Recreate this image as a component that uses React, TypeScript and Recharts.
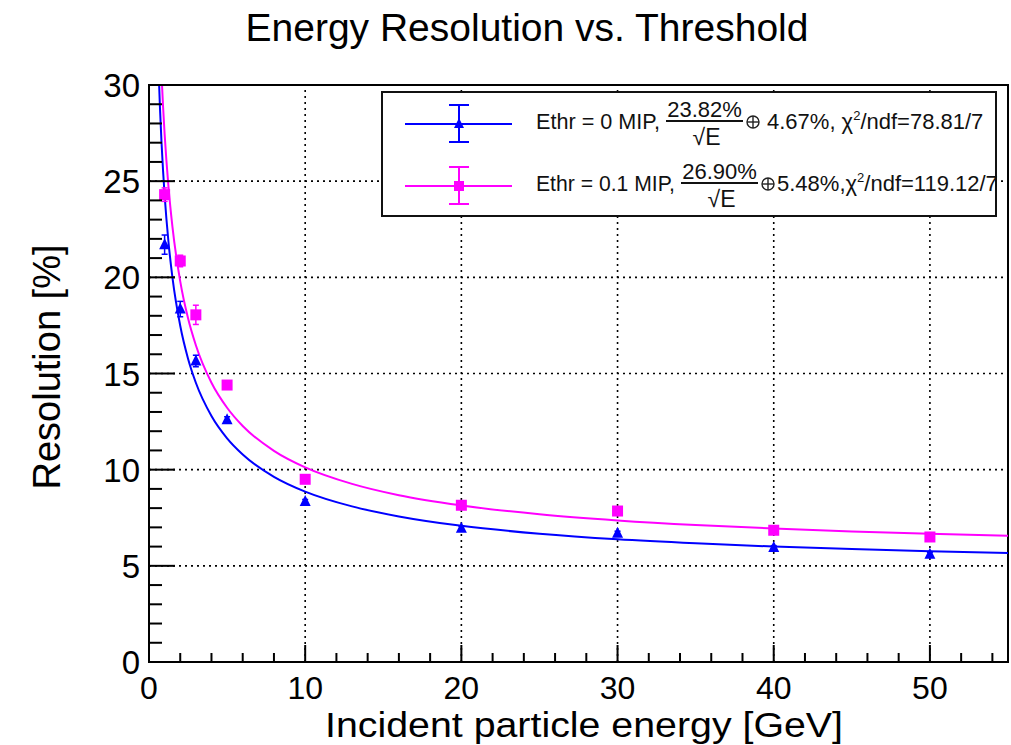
import {
  ComposedChart,
  Line,
  Scatter,
  XAxis,
  YAxis,
  ReferenceLine,
  ReferenceArea,
  ErrorBar,
} from 'recharts';

// measured points
const energies = [1, 2, 3, 5, 10, 20, 30, 40, 50];
const resEthr0 = [21.7, 18.35, 15.65, 12.6, 8.35, 6.95, 6.7, 5.95, 5.6];
const errEthr0 = [0.5, 0.4, 0.3, 0.15, 0.1, 0.1, 0.1, 0.1, 0.1];
const resEthr01 = [24.3, 20.85, 18.05, 14.4, 9.5, 8.15, 7.85, 6.85, 6.5];
const errEthr01 = [0.35, 0.3, 0.5, 0.2, 0.15, 0.1, 0.15, 0.1, 0.1];

// fit curves
const fitEnergies = [0.6, 0.7, 0.8, 0.9, 1, 1.25, 1.5, 2, 2.5, 3, 4, 5, 6, 8, 10, 13, 16, 20, 25, 30, 35, 40, 45, 50, 55];
const fitEthr0 = [31.1, 28.85, 27.04, 25.54, 24.27, 21.81, 20.0, 17.48, 15.77, 14.52, 12.79, 11.63, 10.79, 9.63, 8.86, 8.09, 7.57, 7.08, 6.67, 6.38, 6.17, 6.0, 5.87, 5.76, 5.67];
const fitEthr01 = [35.16, 32.61, 30.57, 28.88, 27.45, 24.68, 22.64, 19.79, 17.87, 16.47, 14.52, 13.22, 12.27, 10.98, 10.12, 9.26, 8.67, 8.14, 7.68, 7.36, 7.12, 6.94, 6.79, 6.67, 6.57];

const xTicks = [0, 2, 4, 6, 8, 10, 12, 14, 16, 18, 20, 22, 24, 26, 28, 30, 32, 34, 36, 38, 40, 42, 44, 46, 48, 50, 52, 54];
const yTicks = [0, 1, 2, 3, 4, 5, 6, 7, 8, 9, 10, 11, 12, 13, 14, 15, 16, 17, 18, 19, 20, 21, 22, 23, 24, 25, 26, 27, 28, 29, 30];
const xGrid = [10, 20, 30, 40, 50];
const yGrid = [5, 10, 15, 20, 25];

const BLUE = '#0000ff';
const MAGENTA = '#ff00ff';
const FONT = '"Liberation Sans", Arial, sans-serif';

const pts0 = energies.map((x, i) => ({ x, y: resEthr0[i], err: errEthr0[i] }));
const pts01 = energies.map((x, i) => ({ x, y: resEthr01[i], err: errEthr01[i] }));
const fit0 = fitEnergies.map((x, i) => ({ x, y: fitEthr0[i] }));
const fit01 = fitEnergies.map((x, i) => ({ x, y: fitEthr01[i] }));

const XTick = (props: any) => {
  const { x, y, payload } = props;
  const major = payload.value % 10 === 0;
  return (
    <g>
      <line x1={x} x2={x} y1={y} y2={y - (major ? 17 : 9)} stroke="#000" strokeWidth={2} />
      {major && (
        <text x={x} y={y + 37} textAnchor="middle" fontSize={32} fontFamily={FONT} fill="#000">
          {payload.value}
        </text>
      )}
    </g>
  );
};

const YTick = (props: any) => {
  const { x, y, payload } = props;
  const major = payload.value % 5 === 0;
  return (
    <g>
      <line x1={x} x2={x + (major ? 26 : 13)} y1={y} y2={y} stroke="#000" strokeWidth={2} />
      {major && (
        <text x={x - 9} y={y + 12} textAnchor="end" fontSize={33} fontFamily={FONT} fill="#000">
          {payload.value}
        </text>
      )}
    </g>
  );
};

const Triangle = (props: any) => {
  const { cx, cy } = props;
  return <polygon points={`${cx},${cy - 6.5} ${cx - 5.5},${cy + 4.5} ${cx + 5.5},${cy + 4.5}`} fill={BLUE} />;
};

const Square = (props: any) => {
  const { cx, cy } = props;
  return <rect x={cx - 5.5} y={cy - 5.5} width={11} height={11} fill={MAGENTA} />;
};

function Oplus({ cx, cy }: { cx: number; cy: number }) {
  return (
    <g stroke="#222" strokeWidth={1.4} fill="none">
      <circle cx={cx} cy={cy} r={6} />
      <line x1={cx - 6} x2={cx + 6} y1={cy} y2={cy} />
      <line x1={cx} x2={cx} y1={cy - 6} y2={cy + 6} />
    </g>
  );
}

function LegendEntry(p: {
  y: number;
  color: string;
  marker: 'tri' | 'sq';
  label: string;
  labelEnd: number;
  num: string;
  rest: string;
  chi: string;
  restX: number;
}) {
  const { y, color } = p;
  const fracL = p.labelEnd + 6;
  const fracR = fracL + 77;
  const fracC = (fracL + fracR) / 2;
  return (
    <g>
      <line x1={405} x2={512} y1={y} y2={y} stroke={color} strokeWidth={2} />
      <line x1={459} x2={459} y1={y - 19} y2={y + 18} stroke={color} strokeWidth={2} />
      <line x1={449} x2={469} y1={y - 19} y2={y - 19} stroke={color} strokeWidth={2} />
      <line x1={449} x2={469} y1={y + 18} y2={y + 18} stroke={color} strokeWidth={2} />
      {p.marker === 'tri' ? (
        <polygon points={`459,${y - 6} 454,${y + 4} 464,${y + 4}`} fill={color} />
      ) : (
        <rect x={454} y={y - 5} width={10} height={10} fill={color} />
      )}
      <g fontFamily={FONT} fill="#111" fontSize={22}>
        <text x={536} y={y + 5} textLength={p.labelEnd - 536} lengthAdjust="spacingAndGlyphs">
          {p.label}
        </text>
        <text x={fracC} y={y - 7} textAnchor="middle">{p.num}</text>
        <line x1={fracL} x2={fracR} y1={y - 3} y2={y - 3} stroke="#111" strokeWidth={2} />
        <text x={fracC + 2} y={y + 21} textAnchor="middle" fontSize={23}>{'\u221AE'}</text>
        <text x={p.restX} y={y + 5}>
          {p.rest}χ
          <tspan dy={-9} fontSize={13}>2</tspan>
          <tspan dy={9}>{p.chi}</tspan>
        </text>
      </g>
      <Oplus cx={fracR + 10} cy={y - 2} />
    </g>
  );
}

export default function App() {
  return (
    <div style={{ position: 'absolute', left: 0, top: 0, width: 1011, height: 745, background: '#fff' }}>
      <ComposedChart
        width={1011}
        height={745}
        margin={{ top: 85, right: 3, bottom: 43, left: 89 }}
      >
        <XAxis
          dataKey="x"
          type="number"
          domain={[0, 55]}
          ticks={xTicks}
          interval={0}
          allowDataOverflow
          height={40}
          tickSize={0}
          tickMargin={0}
          tickLine={false}
          tick={<XTick />}
          axisLine={{ stroke: '#000', strokeWidth: 2 }}
        />
        <YAxis
          type="number"
          domain={[0, 30]}
          ticks={yTicks}
          interval={0}
          allowDataOverflow
          width={60}
          tickSize={0}
          tickMargin={0}
          tickLine={false}
          tick={<YTick />}
          axisLine={{ stroke: '#000', strokeWidth: 2 }}
        />
        {xGrid.map((v) => (
          <ReferenceLine key={'gx' + v} x={v} stroke="#000" strokeWidth={1.6} strokeDasharray="2 4" />
        ))}
        {yGrid.map((v) => (
          <ReferenceLine key={'gy' + v} y={v} stroke="#000" strokeWidth={1.6} strokeDasharray="2 4" />
        ))}
        <ReferenceArea x1={0} x2={55} y1={0} y2={30} fill="none" stroke="#000" strokeWidth={2} />
        <Line
          data={fit0}
          dataKey="y"
          type="monotone"
          stroke={BLUE}
          strokeWidth={2}
          dot={false}
          activeDot={false}
          isAnimationActive={false}
        />
        <Line
          data={fit01}
          dataKey="y"
          type="monotone"
          stroke={MAGENTA}
          strokeWidth={2}
          dot={false}
          activeDot={false}
          isAnimationActive={false}
        />
        <Scatter data={pts0} dataKey="y" shape={<Triangle />} fill={BLUE} isAnimationActive={false}>
          <ErrorBar dataKey="err" direction="y" width={3} stroke={BLUE} strokeWidth={1.5} />
        </Scatter>
        <Scatter data={pts01} dataKey="y" shape={<Square />} fill={MAGENTA} isAnimationActive={false}>
          <ErrorBar dataKey="err" direction="y" width={3} stroke={MAGENTA} strokeWidth={1.5} />
        </Scatter>
      </ComposedChart>
      <svg
        width={1011}
        height={745}
        style={{ position: 'absolute', left: 0, top: 0, pointerEvents: 'none' }}
      >
        <text x={527} y={41} textAnchor="middle" fontSize={39} fontFamily={FONT} fill="#000">
          Energy Resolution vs. Threshold
        </text>
        <text
          x={584}
          y={737}
          textAnchor="middle"
          fontSize={35}
          fontFamily={FONT}
          fill="#000"
          textLength={518}
          lengthAdjust="spacingAndGlyphs"
        >
          Incident particle energy [GeV]
        </text>
        <text
          x={0}
          y={0}
          transform="translate(60,367) rotate(-90)"
          textAnchor="middle"
          fontSize={38}
          fontFamily={FONT}
          fill="#000"
        >
          Resolution [%]
        </text>
        <rect x={382} y={92} width={614} height={124} fill="#fff" stroke="#111" strokeWidth={2} />
        <LegendEntry
          y={124}
          color={BLUE}
          marker="tri"
          label="Ethr = 0 MIP,"
          labelEnd={660}
          num="23.82%"
          rest="4.67%, "
          chi="/ndf=78.81/7"
          restX={767}
        />
        <LegendEntry
          y={186}
          color={MAGENTA}
          marker="sq"
          label="Ethr = 0.1 MIP,"
          labelEnd={675}
          num="26.90%"
          rest="5.48%,"
          chi="/ndf=119.12/7"
          restX={777}
        />
      </svg>
    </div>
  );
}
